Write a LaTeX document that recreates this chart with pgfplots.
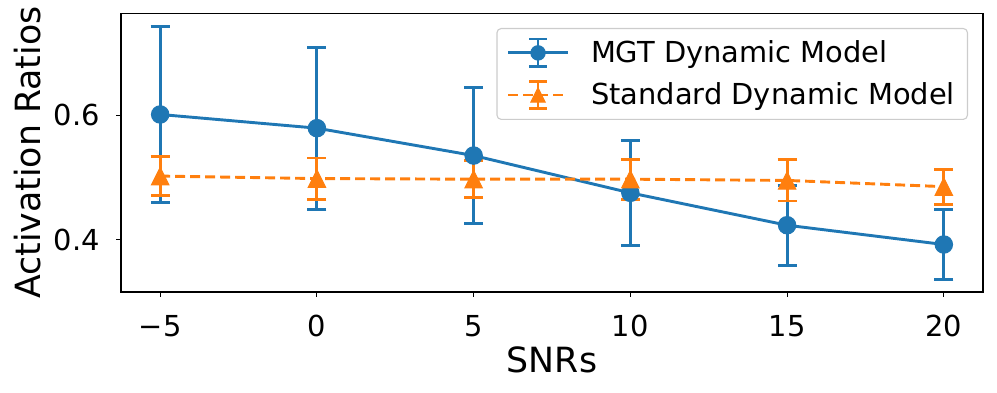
\documentclass[border=0pt]{standalone}
\usepackage{fontspec}
\setmainfont{DejaVu Sans}
\usepackage{pgfplots}
\usepackage{pgfplotstable}
\pgfplotsset{compat=1.18}
\definecolor{mplblue}{RGB}{31,119,180}
\definecolor{mplorange}{RGB}{255,127,14}
% matplotlib-like triangle: as wide as it is tall
\pgfdeclareplotmark{mtri}{%
  \pgfpathmoveto{\pgfqpoint{0pt}{\pgfplotmarksize}}%
  \pgfpathlineto{\pgfqpoint{-\pgfplotmarksize}{-\pgfplotmarksize}}%
  \pgfpathlineto{\pgfqpoint{\pgfplotmarksize}{-\pgfplotmarksize}}%
  \pgfpathclose\pgfusepathqfillstroke}

\pgfplotstableread{
snr mean err
-5  0.601 0.142
0   0.579 0.130
5   0.535 0.109
10  0.475 0.084
15  0.423 0.064
20  0.392 0.056
}\mgt
\pgfplotstableread{
snr mean err
-5  0.502 0.031
0   0.498 0.033
5   0.497 0.030
10  0.497 0.032
15  0.495 0.033
20  0.485 0.028
}\standard

\begin{document}
\begin{tikzpicture}
\begin{axis}[
  scale only axis, width=620.64pt, height=200.52pt,
  xmin=-6.25, xmax=21.25, ymin=0.3157, ymax=0.7633,
  xtick={-5,0,5,10,15,20}, xticklabels={−5,0,5,10,15,20},
  ytick={0.4,0.6}, yticklabels={0.4,0.6},
  tick pos=left, tick align=outside, major tick length=3.5pt,
  every tick/.style={black, line width=0.8pt},
  axis line style={line width=0.8pt},
  tick label style={font=\fontsize{20.8}{25}\selectfont},
  label style={font=\fontsize{25}{30}\selectfont},
  xticklabel style={anchor=base, yshift=-28.8pt},
  yticklabel style={anchor=east, inner sep=0pt, xshift=-11.5pt},
  xlabel={SNRs}, ylabel={Activation Ratios},
  xlabel style={at={([yshift=-58.3pt]axis description cs:0.5,0)}, anchor=base},
  ylabel style={at={([xshift=-58.3pt]axis description cs:0,0.5)}, anchor=base},
  legend cell align=left,
  legend image code/.code={
    \draw[#1, mark=none] (0pt,0pt) -- (43pt,0pt);
    \draw[#1, solid, mark=none] (21.5pt,-10pt) -- (21.5pt,10pt)
      (15pt,-10pt) -- (28pt,-10pt) (15pt,10pt) -- (28pt,10pt);
    \draw[#1, mark size=5.2pt] plot coordinates {(21.5pt,0pt)};
  },
  legend style={at={(0.9826,0.948)}, anchor=north east,
    font=\fontsize{20.8}{25}\selectfont,
    draw=black!20, line width=0.8pt, rounded corners=3pt, fill=white,
    inner xsep=7pt, inner ysep=6.5pt, row sep=8.2pt, column sep=13.6pt},
]
\addplot[mplblue, line width=2.1pt, mark=*, mark size=6.3pt,
  mark options={solid, line width=0.7pt},
  error bars/.cd, y dir=both, y explicit,
  error bar style={line width=2.1pt, solid},
  error mark options={rotate=90, mark size=6.8pt, line width=2.1pt, solid}]
  table[x=snr, y=mean, y error=err] {\mgt};
\addlegendentry{MGT Dynamic Model}
\addplot[mplorange, line width=2.1pt, dash pattern=on 7.2pt off 3.6pt,
  mark=mtri, mark size=6.3pt, mark options={solid, line width=0.7pt},
  error bars/.cd, y dir=both, y explicit,
  error bar style={line width=2.1pt, solid},
  error mark options={rotate=90, mark size=6.8pt, line width=2.1pt, solid}]
  table[x=snr, y=mean, y error=err] {\standard};
\addlegendentry{Standard Dynamic Model}
\end{axis}
\pgfresetboundingbox
\path[use as bounding box] ([shift={(-87.12pt,-72.72pt)}]current axis.south west)
  rectangle ([shift={(630.72pt,210.24pt)}]current axis.south west);
\end{tikzpicture}
\end{document}
